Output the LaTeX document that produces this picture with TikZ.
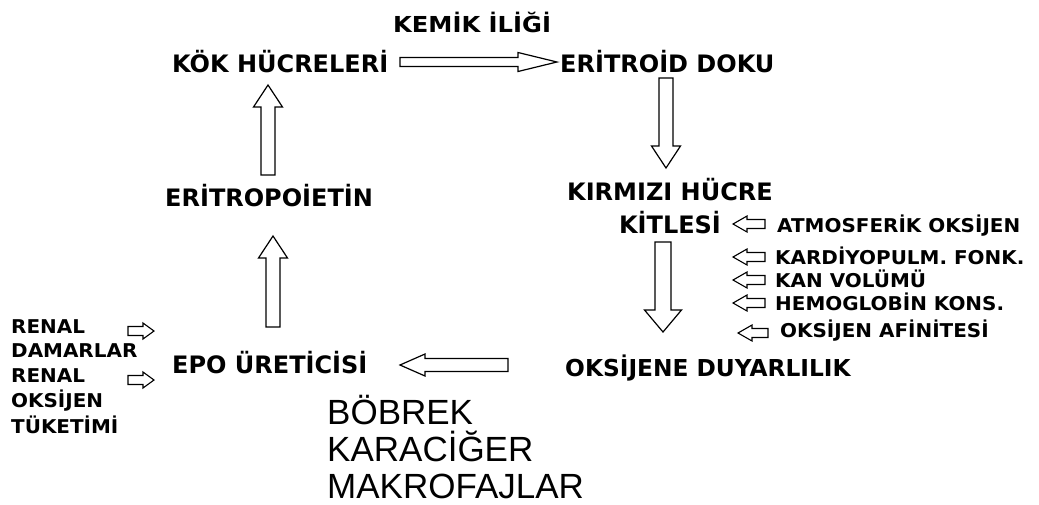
\documentclass[tikz,border=0pt]{standalone}
\usepackage{fontspec}
\setmainfont{DejaVu Sans}
\newfontfamily\boldlbl[FakeStretch=1.0]{DejaVu Sans}
\newfontfamily\widelbl[FakeStretch=1.05]{DejaVu Sans}
\newfontfamily\toplblfont[FakeStretch=1.1]{DejaVu Sans}
\newfontfamily\organfont{Liberation Sans}
\usetikzlibrary{calc}

\tikzset{
  baw/.store in=\baw, bah/.store in=\bah, bal/.store in=\bal,
  baw=7pt, bah=14pt, bal=22pt,
  % hollow block arrow drawn from the start point to the target point
  blockarrow/.style={draw=black, fill=white, line width=1.2pt, line join=miter,
    to path={
      ($(\tikztostart)!\baw!90:(\tikztotarget)$)
      -- ($(\tikztotarget)!\bal!(\tikztostart)!\baw!-90:(\tikztostart)$)
      -- ($(\tikztotarget)!\bal!(\tikztostart)!\bah!-90:(\tikztostart)$)
      -- (\tikztotarget)
      -- ($(\tikztotarget)!\bal!(\tikztostart)!\bah!90:(\tikztostart)$)
      -- ($(\tikztotarget)!\bal!(\tikztostart)!\baw!90:(\tikztostart)$)
      -- ($(\tikztostart)!\baw!-90:(\tikztotarget)$)
      -- cycle}},
  bigarrow/.style={blockarrow, baw=7pt, bah=14.5pt, bal=22pt},
  smallarrow/.style={blockarrow, baw=4.5pt, bah=8pt, bal=14pt, line width=1.1pt},
  mainlbl/.style={inner sep=0pt, anchor=base west, font=\boldlbl\bfseries\fontsize{24}{28}\selectfont},
  toplbl/.style={inner sep=0pt, anchor=base west, font=\toplblfont\bfseries\fontsize{22}{26}\selectfont},
  factor/.style={inner sep=0pt, anchor=base west, font=\widelbl\bfseries\fontsize{19}{22}\selectfont},
  organ/.style={inner sep=0pt, anchor=base west, font=\organfont\fontsize{35}{40}\selectfont},
}

\begin{document}
\begin{tikzpicture}[x=1pt, y=-1pt]
\useasboundingbox[fill=white] (0,0) rectangle (1039,504);

% main cycle labels
\node[toplbl]  (kemik)    at (393,32)  {KEMİK İLİĞİ};
\node[mainlbl] (kok)      at (172,72)  {KÖK HÜCRELERİ};
\node[mainlbl] (eritroid) at (560,72)  {ERİTROİD DOKU};
\node[mainlbl] (epoietin) at (165,206) {ERİTROPOİETİN};
\node[mainlbl, anchor=base] (kirmizi) at (670,200) {KIRMIZI HÜCRE};
\node[mainlbl, anchor=base] (kitlesi) at (670,233) {KİTLESİ};
\node[mainlbl, font=\boldlbl\bfseries\fontsize{23.3}{28}\selectfont] (duyarli) at (565,376) {OKSİJENE DUYARLILIK};
\node[mainlbl] (epo)      at (172,373) {EPO ÜRETİCİSİ};

% factors acting on red cell mass
\node[factor] (atmo)  at (777,232) {ATMOSFERİK OKSİJEN};
\node[factor] (kardi) at (775,264) {KARDİYOPULM. FONK.};
\node[factor] (kan)   at (775,287) {KAN VOLÜMÜ};
\node[factor] (hemo)  at (775,310) {HEMOGLOBİN KONS.};
\node[factor] (afin)  at (780,337) {OKSİJEN AFİNİTESİ};

% renal factors
\node[factor] (renal1) at (11,333) {RENAL};
\node[factor] (damar)  at (11,357) {DAMARLAR};
\node[factor] (renal2) at (11,382) {RENAL};
\node[factor] (oksi)   at (11,407) {OKSİJEN};
\node[factor] (tuket)  at (11,433) {TÜKETİMİ};

% production sites
\node[organ] (bobrek) at (327,424) {BÖBREK};
\node[organ] (karac)  at (327,461) {KARACİĞER};
\node[organ] (makro)  at (327,498) {MAKROFAJLAR};

% arrow end points of the cycle
\coordinate (a1s) at (400,62);  \coordinate (a1e) at (557,62);
\coordinate (a2s) at (666,78);  \coordinate (a2e) at (666,168);
\coordinate (a3s) at (268,175); \coordinate (a3e) at (268,85);
\coordinate (a4s) at (273,327); \coordinate (a4e) at (273,236);
\coordinate (a5s) at (663,242); \coordinate (a5e) at (663,332);
\coordinate (a6s) at (508,365); \coordinate (a6e) at (400,365);

\draw[bigarrow, baw=4.5pt, bah=9.5pt, bal=39pt] (a1s) to (a1e);
\draw[bigarrow] (a2s) to (a2e);
\draw[bigarrow] (a3s) to (a3e);
\draw[bigarrow] (a4s) to (a4e);
\draw[bigarrow, baw=8pt, bah=18.5pt] (a5s) to (a5e);
\draw[bigarrow, baw=6.5pt, bah=11pt, bal=25pt] (a6s) to (a6e);

% small arrows of the factor lists
\coordinate (f1s) at (765,224); \coordinate (f1e) at (733,224);
\coordinate (f2s) at (765,257); \coordinate (f2e) at (733,257);
\coordinate (f3s) at (765,280); \coordinate (f3e) at (733,280);
\coordinate (f4s) at (765,303); \coordinate (f4e) at (733,303);
\coordinate (f5s) at (768,333); \coordinate (f5e) at (738,333);
\draw[smallarrow] (f1s) to (f1e);
\draw[smallarrow] (f2s) to (f2e);
\draw[smallarrow] (f3s) to (f3e);
\draw[smallarrow] (f4s) to (f4e);
\draw[smallarrow] (f5s) to (f5e);

\coordinate (r1s) at (128,331); \coordinate (r1e) at (154,331);
\coordinate (r2s) at (128,380); \coordinate (r2e) at (154,380);
\draw[smallarrow, bal=11pt] (r1s) to (r1e);
\draw[smallarrow, bal=11pt] (r2s) to (r2e);
\end{tikzpicture}
\end{document}
